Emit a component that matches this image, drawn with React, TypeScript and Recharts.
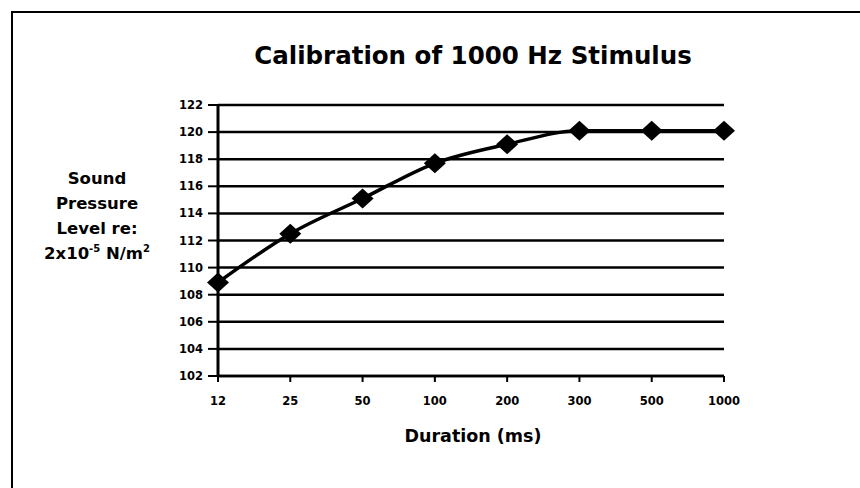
import React from "react";
import { LineChart, Line, XAxis, YAxis, CartesianGrid } from "recharts";

const durations = ["12", "25", "50", "100", "200", "300", "500", "1000"];
const levels = [108.9, 112.5, 115.1, 117.7, 119.1, 120.1, 120.1, 120.1];
const levelTicks = [102, 104, 106, 108, 110, 112, 114, 116, 118, 120, 122];

const data = durations.map((d, i) => ({ duration: d, level: levels[i] }));

const FONT = '"DejaVu Sans", Arial, sans-serif';

// filled diamond marker, like the old spreadsheet default
const Diamond = (props: any) => {
  const { cx, cy, index } = props;
  if (cx == null || cy == null) return null;
  const w = 11;
  const h = 10;
  return (
    <polygon
      key={`d-${index}`}
      points={`${cx},${cy - h} ${cx + w},${cy} ${cx},${cy + h} ${cx - w},${cy}`}
      fill="#000"
    />
  );
};

const tickStyle = { fill: "#000", fontSize: 11.5, fontWeight: 700, fontFamily: FONT };

export default function App() {
  return (
    <div
      style={{
        position: "absolute",
        left: 0,
        top: 0,
        width: 860,
        height: 488,
        background: "#fff",
        overflow: "hidden",
        fontFamily: FONT,
        color: "#000",
      }}
    >
      {/* frame: only the top and left edges fall inside the page */}
      <div
        style={{
          position: "absolute",
          left: 11,
          top: 11,
          width: 900,
          height: 520,
          borderLeft: "2px solid #000",
          borderTop: "2px solid #000",
        }}
      />

      <LineChart
        width={860}
        height={488}
        data={data}
        margin={{ top: 105, right: 136, bottom: 82, left: 158 }}
        style={{ position: "absolute", left: 0, top: 0 }}
      >
        <CartesianGrid horizontal vertical={false} stroke="#000" strokeWidth={2.5} />
        <XAxis
          dataKey="duration"
          height={30}
          axisLine={{ stroke: "#000", strokeWidth: 2.5 }}
          tickLine={{ stroke: "#000", strokeWidth: 2 }}
          tickSize={6}
          tickMargin={15}
          tick={tickStyle}
          interval={0}
        />
        <YAxis
          width={60}
          domain={[102, 122]}
          ticks={levelTicks}
          allowDataOverflow
          axisLine={{ stroke: "#000", strokeWidth: 3 }}
          tickLine={{ stroke: "#000", strokeWidth: 2 }}
          tickSize={10}
          tickMargin={5}
          tick={tickStyle}
          interval={0}
        />
        <Line
          type="monotone"
          dataKey="level"
          stroke="#000"
          strokeWidth={3.5}
          dot={Diamond}
          activeDot={false}
          isAnimationActive={false}
        />
      </LineChart>

      <div
        style={{
          position: "absolute",
          left: 473,
          top: 44,
          transform: "translateX(-50%)",
          whiteSpace: "nowrap",
          fontSize: 24.5,
          lineHeight: "24.5px",
          fontWeight: 700,
        }}
      >
        Calibration of 1000 Hz Stimulus
      </div>

      <div
        style={{
          position: "absolute",
          left: 97,
          top: 166,
          transform: "translateX(-50%)",
          whiteSpace: "nowrap",
          textAlign: "center",
          fontSize: 16.5,
          lineHeight: "25px",
          fontWeight: 700,
        }}
      >
        <div>Sound</div>
        <div>Pressure</div>
        <div>Level re:</div>
        <div>
          2x10
          <span style={{ fontSize: 10, position: "relative", top: -7 }}>-5</span> N/m
          <span style={{ fontSize: 10, position: "relative", top: -7 }}>2</span>
        </div>
      </div>

      <div
        style={{
          position: "absolute",
          left: 473,
          top: 428,
          transform: "translateX(-50%)",
          whiteSpace: "nowrap",
          fontSize: 17.5,
          lineHeight: "17.5px",
          fontWeight: 700,
        }}
      >
        Duration (ms)
      </div>
    </div>
  );
}
